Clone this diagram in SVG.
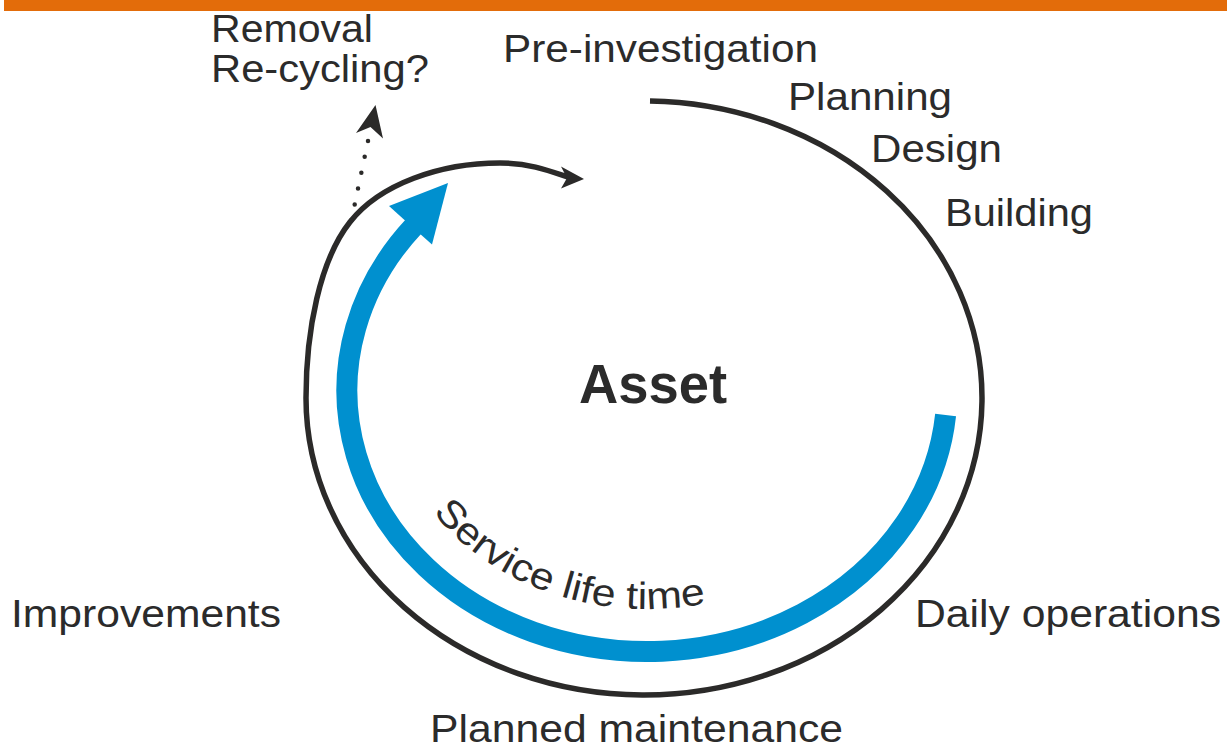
<svg xmlns="http://www.w3.org/2000/svg" width="1231" height="749" viewBox="0 0 1231 749">
  <style>
    .lbl { font-family: "Liberation Sans", Arial, sans-serif; font-size: 38px; fill: #2b2b2b; }
    .bold { font-family: "Liberation Sans", Arial, sans-serif; font-size: 56px; font-weight: bold; fill: #2b2b2b; }
    .ring { fill: none; stroke: #2b2a29; stroke-width: 5.5; }
    .life { fill: none; stroke: #0090cf; stroke-width: 21; stroke-linecap: butt; }
    .dots { fill: none; stroke: #2b2a29; stroke-width: 4.5; stroke-linecap: round; stroke-dasharray: 0 16.2; }
    .head { fill: #2b2a29; }
  </style>
  <defs>
    <path id="lifePath" d="M 423.6,499.5 A 258 219 0 0 0 776,579.7" fill="none"/>
  </defs>

  <rect id="topbar" x="4" y="0" width="1223" height="11" fill="#e36c0a"/>

  <g id="connectors">
    <!-- outer spiral (life cycle) -->
    <path class="ring" d="M 650,101 A 338 297 0 1 1 306,398 C 306,330 320,260 350,222 C 380,184 440,163 500,163 C 530,163 550,171 569,177.5"/>
    <polygon class="head" points="584,179 561,166.5 567,178 561,188.5"/>
    <!-- dotted exit arrow -->
    <path class="dots" d="M 368,141 L 351,222"/>
    <polygon class="head" points="375.5,105 383,138.5 370.5,127 356,133"/>
    <!-- blue service life arrow -->
    <path class="life" d="M 945.6,415 A 300 261 0 1 1 414,226"/>
    <polygon fill="#0090cf" points="448,183 432,244.5 410,225 389,206"/>
  </g>

  <g id="node-asset"><text class="bold" x="579" y="403" textLength="148" lengthAdjust="spacingAndGlyphs">Asset</text></g>
  <g id="node-removal">
    <text class="lbl" x="211" y="42" textLength="162" lengthAdjust="spacingAndGlyphs">Removal</text>
    <text class="lbl" x="211" y="82" textLength="218" lengthAdjust="spacingAndGlyphs">Re-cycling?</text>
  </g>
  <g id="node-preinvestigation"><text class="lbl" x="503" y="61.5" textLength="315" lengthAdjust="spacingAndGlyphs">Pre-investigation</text></g>
  <g id="node-planning"><text class="lbl" x="788" y="110" textLength="164" lengthAdjust="spacingAndGlyphs">Planning</text></g>
  <g id="node-design"><text class="lbl" x="871" y="161.5" textLength="131" lengthAdjust="spacingAndGlyphs">Design</text></g>
  <g id="node-building"><text class="lbl" x="945" y="226" textLength="148" lengthAdjust="spacingAndGlyphs">Building</text></g>
  <g id="node-improvements"><text class="lbl" x="11" y="627" textLength="270" lengthAdjust="spacingAndGlyphs">Improvements</text></g>
  <g id="node-daily"><text class="lbl" x="915" y="627" textLength="306" lengthAdjust="spacingAndGlyphs">Daily operations</text></g>
  <g id="node-planned"><text class="lbl" x="430" y="742" textLength="413" lengthAdjust="spacingAndGlyphs">Planned maintenance</text></g>
  <g id="node-service">
    <text class="lbl" font-size="40"><textPath href="#lifePath" startOffset="16" textLength="302" lengthAdjust="spacingAndGlyphs">Service life time</textPath></text>
  </g>
</svg>
